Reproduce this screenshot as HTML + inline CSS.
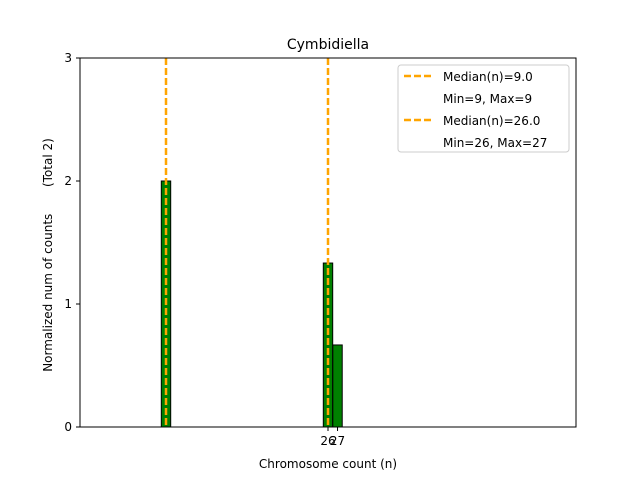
<!DOCTYPE html>
<html><head><meta charset="utf-8"><style>
body{margin:0;background:#fff;font-family:"Liberation Sans","DejaVu Sans",sans-serif;}
svg text{font-family:"DejaVu Sans","Liberation Sans",sans-serif;}
</style></head><body>
<svg id="c" width="640" height="480" xmlns="http://www.w3.org/2000/svg">
<rect x="0" y="0" width="640" height="480" fill="#fff"/>
<text x="328" y="49" font-size="14" text-anchor="middle">Cymbidiella</text>
<g id="marks"></g>
<rect x="80" y="58" width="496" height="369" fill="none" stroke="#000" stroke-width="1"/>
<text x="328" y="468" font-size="12" text-anchor="middle">Chromosome count (n)</text>
<text transform="translate(52,255) rotate(-90)" font-size="12" text-anchor="middle" style="white-space:pre" xml:space="preserve">Normalized num of counts       (Total 2)</text>
<g>
<rect x="398" y="65" width="171" height="87" fill="#fff" stroke="#ccc" rx="3"/>
<line x1="404" y1="76" x2="432" y2="76" stroke="orange" stroke-width="2.5" stroke-dasharray="7,3"/>
<text x="443" y="81" font-size="12">Median(n)=9.0</text>
<text x="443" y="103" font-size="12">Min=9, Max=9</text>
<line x1="404" y1="120" x2="432" y2="120" stroke="orange" stroke-width="2.5" stroke-dasharray="7,3"/>
<text x="443" y="125" font-size="12">Median(n)=26.0</text>
<text x="443" y="147" font-size="12">Min=26, Max=27</text>
</g>
</svg>
<script>
const categories=[9,26,27];
const counts=[2,1.333,0.667];
const medians=[9,26];
const yTicks=[0,1,2,3];
const xTicks=[26,27];
const NS="http://www.w3.org/2000/svg";
const X=v=>166+(v-9)*(162/17);
const Y=v=>427-v*123;
const g=document.getElementById('marks');
function mk(t,a){const e=document.createElementNS(NS,t);for(const k in a)e.setAttribute(k,a[k]);g.appendChild(e);return e;}
categories.forEach((c,i)=>{
 const b=mk('rect',{x:X(c)-4.7,y:Y(counts[i]),width:9.4,height:427-Y(counts[i]),fill:'green',stroke:'#000','stroke-width':1});
 
 
});
medians.forEach(m=>{
 const e=mk('line',{x1:X(m),y1:58,x2:X(m),y2:427,stroke:'orange','stroke-width':2.5,'stroke-dasharray':'7,3'});
 
 
});
yTicks.forEach(t=>{
 mk('line',{x1:76,y1:Y(t),x2:80,y2:Y(t),stroke:'#000'});
 const e=mk('text',{x:72,y:Y(t)+4,'font-size':12,'text-anchor':'end'});e.textContent=t;
 
 
});
xTicks.forEach(t=>{
 mk('line',{x1:X(t),y1:427,x2:X(t),y2:431,stroke:'#000'});
 const e=mk('text',{x:X(t),y:445,'font-size':12,'text-anchor':'middle'});e.textContent=t;
 
 
});
</script>
</body></html>
